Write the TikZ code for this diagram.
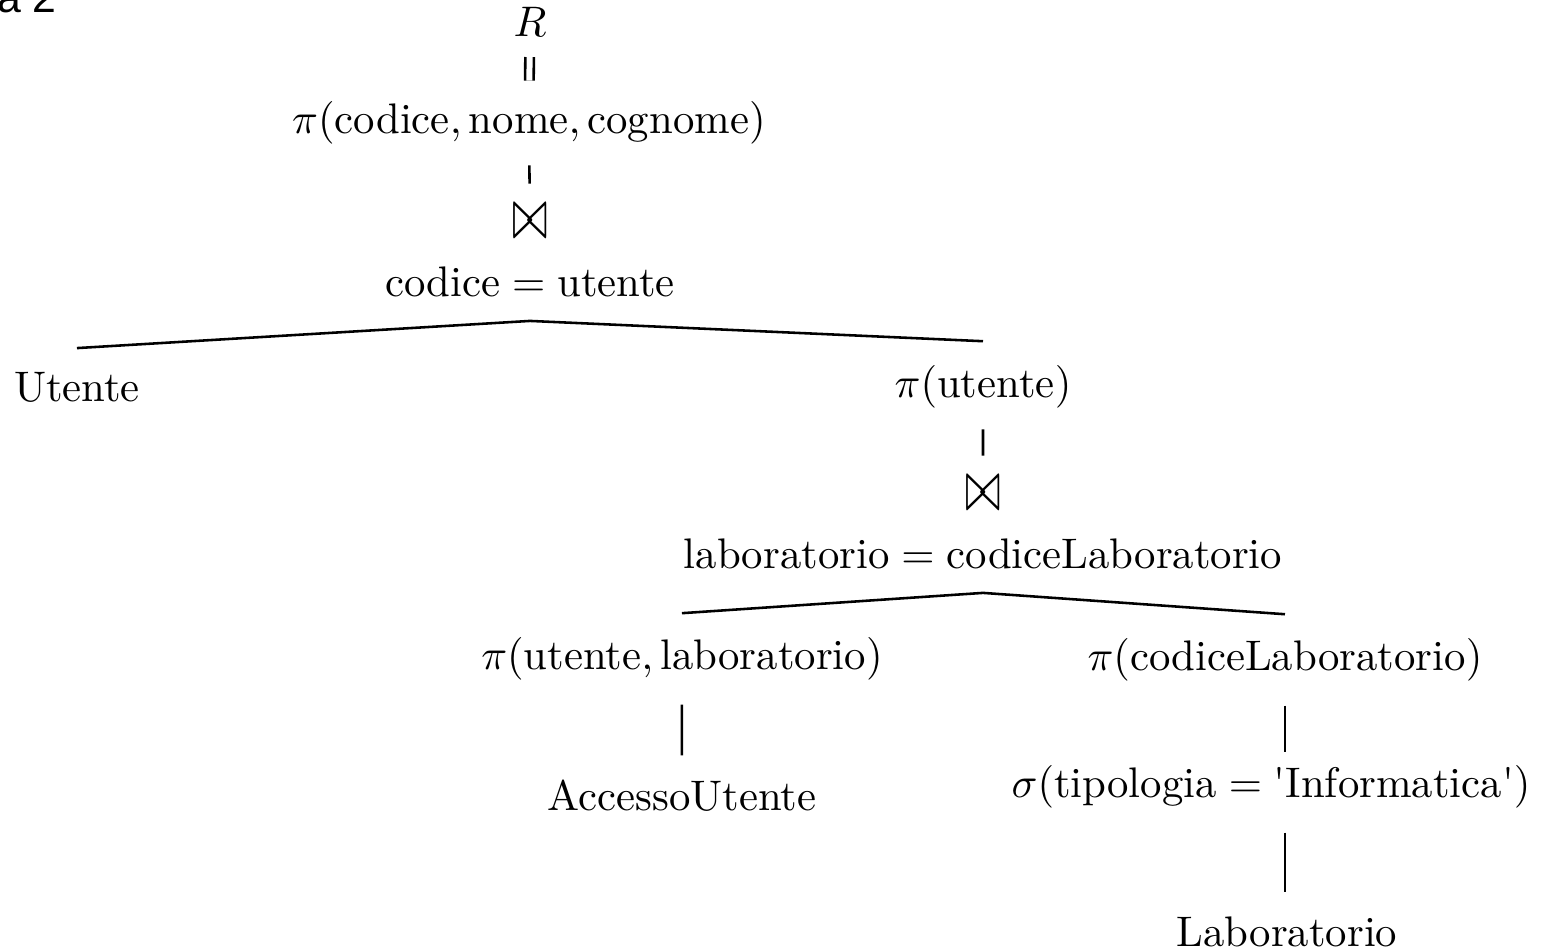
\documentclass[tikz,border=0pt]{standalone}
\usepackage{amsmath,amssymb}
\usepackage{fontspec}
\newfontfamily\capfont{Liberation Sans}
\usetikzlibrary{positioning,calc}
\newcommand{\bigjoin}{\scalebox{1}[1.7]{$\bowtie$}}

\begin{document}
\begin{tikzpicture}[scale=0.956,
  op/.style={inner sep=0pt, outer sep=5.7pt, font=\normalsize},
  edge/.style={semithick},
  tick/.style={semithick, shorten <=-0.8pt, shorten >=-0.8pt},
  eqedge/.style={tick, double, double distance=1.4pt}
]
  \useasboundingbox (0,0) rectangle (13.33,-8.161);
  \clip (0,0) rectangle (13.33,-8.161);

  % Cut-off caption
  \node[anchor=base west, inner sep=0pt, font=\capfont\normalsize] (cap) at (-0.03,-0.11) {a 2};

  % Result and projection
  \node[op] (res) at (4.558,-0.185) {$R$};
  \node[op] (proj1) at (4.549,-1.058) {$\pi(\text{codice}, \text{nome}, \text{cognome})$};

  % First join
  \node[op] (join1) at (4.558,-1.905) {\bigjoin};
  \node[op] (cond1) at (4.558,-2.421) {$\text{codice} = \text{utente}$};

  \node[op] (utente) at (0.662,-3.333) {Utente};
  \node[op] (proj2) at (8.454,-3.328) {$\pi(\text{utente})$};

  % Second join
  \node[op] (join2) at (8.454,-4.244) {\bigjoin};
  \node[op] (cond2) at (8.454,-4.760) {$\text{laboratorio} = \text{codiceLaboratorio}$};

  \node[op] (proj3) at (5.865,-5.667) {$\pi(\text{utente}, \text{laboratorio})$};
  \node[op] (proj4) at (11.051,-5.676) {$\pi(\text{codiceLaboratorio})$};

  \node[op] (accesso) at (5.865,-6.841) {AccessoUtente};
  \node[op] (sel) at (10.931,-6.768) {$\sigma(\text{tipologia} = \text{\textquotesingle Informatica\textquotesingle})$};
  \node[op] (lab) at (11.068,-8.011) {Laboratorio};

  % Edges
  \draw[eqedge] (res) -- (proj1);
  \draw[tick] (proj1) -- (join1);
  \draw[edge] (cond1.south) -- (utente.north);
  \draw[edge] (cond1.south) -- (proj2.north);
  \draw[tick] (proj2) -- (join2);
  \draw[edge] (cond2.south) -- (proj3.north);
  \draw[edge] (cond2.south) -- (proj4.north);
  \draw[edge] (proj3) -- (accesso);
  \draw[edge, shorten >=-2.5pt] (proj4.south) -- (proj4.south |- sel.north);
  \draw[edge] (proj4.south |- sel.south) -- (proj4.south |- lab.north);
\end{tikzpicture}
\end{document}
